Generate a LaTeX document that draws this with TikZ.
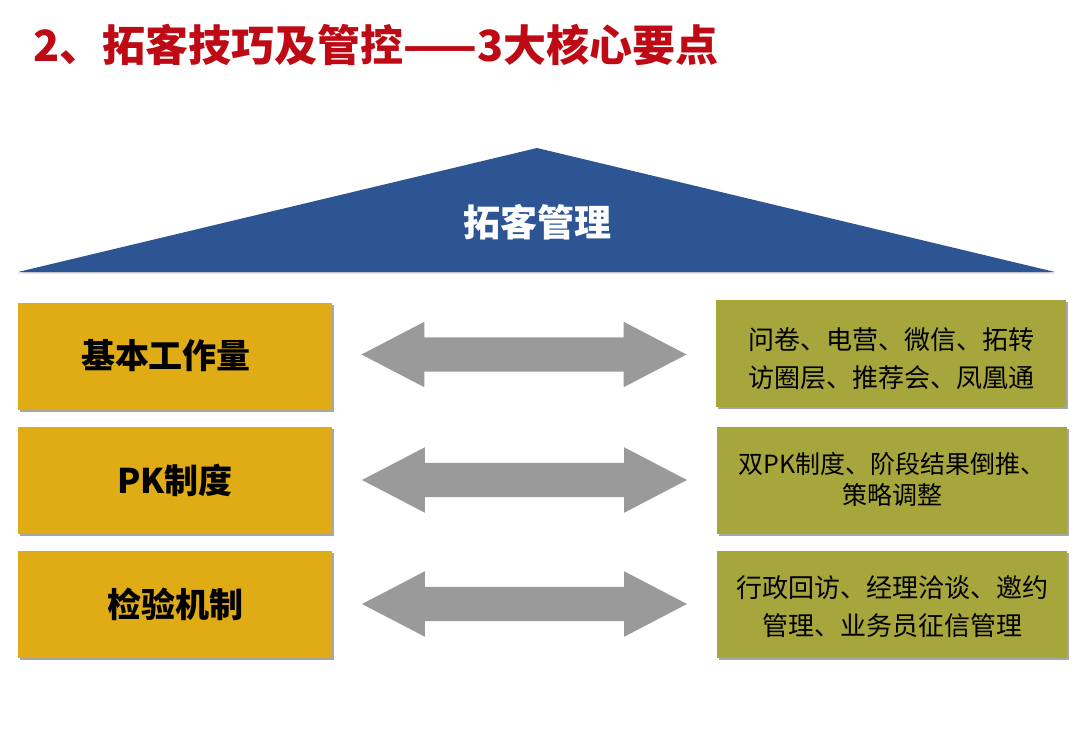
\documentclass[tikz,border=0pt]{standalone}
\usepackage{fontspec}
\newfontfamily\cjk{Noto Sans CJK SC}
\usetikzlibrary{shapes.arrows,shadows,calc}
\definecolor{titlered}{HTML}{BE0A14}
\definecolor{roofblue}{HTML}{2D5594}
\definecolor{gold}{HTML}{E0AC16}
\definecolor{olive}{HTML}{A6A63C}
\definecolor{arrowgray}{HTML}{9A9A9A}
\tikzset{
  boxshadow/.style={drop shadow={shadow xshift=2pt, shadow yshift=-2pt, opacity=0.35, fill=black}},
  leftbox/.style={fill=gold, minimum width=314pt, minimum height=107pt, inner sep=0pt, boxshadow,
    font=\cjk\bfseries\fontsize{34}{40}\selectfont},
  rightbox/.style={fill=olive, minimum width=350pt, minimum height=107pt, inner sep=0pt, boxshadow},
  righttext/.style={align=center, inner sep=0pt, font=\cjk\fontsize{26}{38}\selectfont},
  dblarrow/.style={double arrow, fill=arrowgray, draw=none, minimum height=325pt, minimum width=65pt,
    inner xsep=0pt, inner ysep=17pt, double arrow head extend=15.5pt, double arrow tip angle=55},
}
\begin{document}
\begin{tikzpicture}[x=1pt, y=-1pt]
\fill[white] (0,0) rectangle (1080,729);
\useasboundingbox (0,0) rectangle (1080,729);
% title
\node[anchor=west, text=titlered, inner sep=0pt, font=\cjk\bfseries\fontsize{43}{43}\selectfont] (title) at (33,45) {2、拓客技巧及管控——3大核心要点};
% roof
\coordinate (roofL) at (18,272);
\coordinate (roofT) at (537,148);
\coordinate (roofR) at (1055,272);
\fill[roofblue, drop shadow={shadow xshift=0pt, shadow yshift=-1.5pt, opacity=0.3}] (roofL) -- (roofT) -- (roofR) -- cycle;
\node[text=white, font=\cjk\bfseries\fontsize{37}{40}\selectfont] (roof) at (537,222) {拓客管理};
% left boxes
\node[leftbox] (l1) at (175,356) {\hspace*{-18pt}基本工作量};
\node[leftbox] (l2) at (175,480) {PK制度};
\node[leftbox] (l3) at (175,604) {检验机制};
% right boxes
\node[rightbox] (r1) at (891,353) {};
\node[rightbox] (r2) at (892,480) {};
\node[rightbox] (r3) at (892,604) {};
\node[righttext] (t1) at ($(r1.center)+(0,6)$) {问卷、电营、微信、拓转\\访圈层、推荐会、凤凰通};
\node[righttext, font=\cjk\fontsize{25}{31}\selectfont] (t2) at ($(r2.center)+(0,-1)$) {双PK制度、阶段结果倒推、\\策略调整};
\node[righttext] (t3) at ($(r3.center)+(0,3)$) {行政回访、经理洽谈、邀约\\管理、业务员征信管理};
% double arrows
\node[dblarrow] (a1) at ($(l1.east)!0.5!(r1.west)$) {};
\node[dblarrow] (a2) at ($(l2.east)!0.5!(r2.west)$) {};
\node[dblarrow] (a3) at ($(l3.east)!0.5!(r3.west)$) {};
\end{tikzpicture}
\end{document}
